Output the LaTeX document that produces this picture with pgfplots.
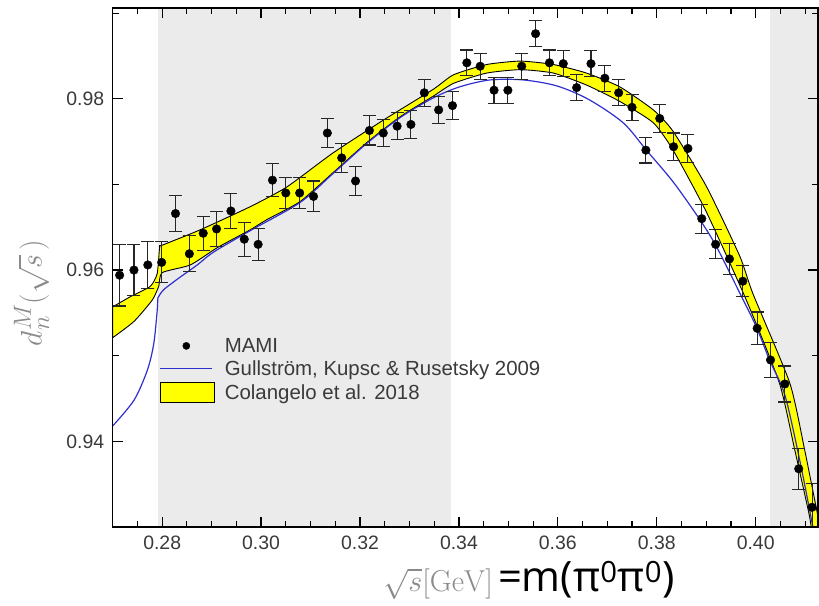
\documentclass[border=0pt]{standalone}
\usepackage{graphicx}
\usepackage{pgfplots}
\pgfplotsset{compat=1.18}
\usepackage{pgfplotstable}
\usepackage[no-math]{fontspec}
\setmainfont{Liberation Sans}
\newfontfamily\bigsans{Open Sans}
\definecolor{bgshade}{HTML}{EBEBEB}
\definecolor{tickgray}{HTML}{3A3A3A}
\definecolor{bandyellow}{HTML}{FFFF00}
\definecolor{gkr}{HTML}{2F2FD0}
\definecolor{labgray}{HTML}{8A8A8A}

\pgfplotstableread{
x y e
0.2714 0.9594 0.0036
0.2743 0.9600 0.0030
0.2771 0.9606 0.0027
0.2799 0.9609 0.0024
0.2827 0.9666 0.0021
0.2855 0.9619 0.0021
0.2883 0.9643 0.0020
0.2910 0.9648 0.0020
0.2939 0.9669 0.0020
0.2966 0.9636 0.0020
0.2994 0.9630 0.0019
0.3023 0.9705 0.0019
0.3050 0.9690 0.0018
0.3078 0.9690 0.0018
0.3106 0.9686 0.0018
0.3134 0.9760 0.0017
0.3163 0.9731 0.0017
0.3191 0.9704 0.0017
0.3219 0.9763 0.0017
0.3247 0.9760 0.0016
0.3275 0.9768 0.0016
0.3303 0.9770 0.0016
0.3330 0.9807 0.0016
0.3359 0.9787 0.0016
0.3387 0.9792 0.0016
0.3416 0.9842 0.0015
0.3443 0.9838 0.0015
0.3471 0.9810 0.0015
0.3499 0.9810 0.0015
0.3527 0.9838 0.0015
0.3555 0.9876 0.0015
0.3583 0.9842 0.0015
0.3611 0.9841 0.0015
0.3638 0.9813 0.0015
0.3667 0.9841 0.0015
0.3695 0.9824 0.0015
0.3723 0.9807 0.0015
0.3750 0.9790 0.0015
0.3778 0.9740 0.0015
0.3806 0.9777 0.0016
0.3834 0.9744 0.0016
0.3863 0.9742 0.0016
0.3891 0.9660 0.0017
0.3919 0.9630 0.0017
0.3947 0.9613 0.0018
0.3974 0.9587 0.0018
0.4003 0.9532 0.0019
0.4030 0.9495 0.0020
0.4059 0.9467 0.0021
0.4087 0.9368 0.0024
0.4114 0.9323 0.0028
}\mami

\pgfplotsset{
  every tick/.style={black, line width=1.2bp},
  tickwidth=10bp, subtickwidth=6bp,
}

\begin{document}
\begin{tikzpicture}
\begin{axis}[
  at={(112.7bp,79bp)}, anchor=south west,
  width=705.3bp, height=519bp, scale only axis,
  xmin=0.27, xmax=0.4126, ymin=0.93, ymax=0.9906,
  xtick={0.28,0.30,0.32,0.34,0.36,0.38,0.40},
  ytick={0.94,0.96,0.98},
  minor x tick num=3, minor y tick num=1,
  xtick pos=both, ytick pos=both,
  tick align=inside,
  axis on top,
  unbounded coords=jump,
  axis line style={line width=1.5bp},
  xticklabel={\pgfmathprintnumber[assume math mode=true,fixed,fixed zerofill,precision=2]{\tick}},
  yticklabel={\pgfmathprintnumber[assume math mode=true,fixed,fixed zerofill,precision=2]{\tick}},
  tick label style={font=\fontsize{19.5}{22}\selectfont, text=tickgray},
  xticklabel style={yshift=-5bp},
  yticklabel style={xshift=-5bp},
  xlabel={\textcolor{labgray}{\scalebox{1.22}{\fontsize{24.88}{28}\selectfont$\sqrt{s}[\mathrm{GeV}]$}}\hspace{5bp}{\bigsans\fontsize{42}{46}\selectfont =m(π\textsuperscript{0}π\textsuperscript{0})}},
  xlabel style={at={(axis description cs:0.590,-0.125)}, anchor=base},
  ylabel={\textcolor{labgray}{\scalebox{1.2}{\fontsize{24.88}{28}\selectfont$d_n^M\bigl(\sqrt{s}\,\bigr)$}}},
  ylabel style={at={(axis description cs:-0.115,0.451)}, anchor=center, inner sep=0pt},
  reverse legend,
  legend cell align=left,
  legend style={at={(axis description cs:0.062,0.372)}, anchor=north west, draw=none, fill=none,
    font=\fontsize{20.5}{23}\selectfont, text=tickgray, row sep=3bp,
    /tikz/every odd column/.append style={column sep=8bp}},
]
% shaded regions
\addplot[fill=bgshade, draw=none, forget plot] coordinates {(0.2791,0.92) (0.3384,0.92) (0.3384,1.0) (0.2791,1.0)} -- cycle;
\addplot[fill=bgshade, draw=none, forget plot] coordinates {(0.4029,0.92) (0.42,0.92) (0.42,1.0) (0.4029,1.0)} -- cycle;
% Colangelo band
\addplot[fill=bandyellow, draw=black, line width=0.9bp, smooth, tension=0.35,
  legend image code/.code={\draw[fill=bandyellow, draw=black, line width=1bp] (0bp,-10bp) rectangle (54bp,10bp);}]
coordinates {
(0.2700,0.9557) (0.2736,0.9569) (0.2776,0.9581) (0.2790,0.9596) (0.2795,0.9627) (0.2800,0.9629)
(0.2877,0.9647) (0.2978,0.9674) (0.3052,0.9697) (0.3146,0.9737) (0.3247,0.9775) (0.3348,0.9811)
(0.3389,0.9828) (0.3456,0.9840) (0.3524,0.9844) (0.3591,0.9840) (0.3658,0.9830) (0.3725,0.9814)
(0.3793,0.9787) (0.3833,0.9762) (0.3901,0.9697) (0.3968,0.9616) (0.3994,0.9573) (0.4069,0.9468)
(0.4099,0.9390) (0.4126,0.9312) (0.4140,0.9270)
(0.4120,0.9270) (0.4109,0.9312) (0.4079,0.9390) (0.4048,0.9468) (0.3981,0.9565) (0.3901,0.9667)
(0.3833,0.9740) (0.3793,0.9772) (0.3725,0.9797) (0.3658,0.9816) (0.3591,0.9830) (0.3524,0.9834)
(0.3456,0.9830) (0.3389,0.9818) (0.3348,0.9803) (0.3281,0.9779) (0.3214,0.9749) (0.3146,0.9714)
(0.3079,0.9680) (0.3012,0.9659) (0.2978,0.9647) (0.2911,0.9626) (0.2857,0.9606) (0.2800,0.9597)
(0.2793,0.9581) (0.2780,0.9565) (0.2743,0.9540) (0.2700,0.9521)
} -- cycle;
\addlegendentry{Colangelo et al. 2018}
% Gullstrom, Kupsc & Rusetsky (below threshold)
\addplot[gkr, line width=1.2bp, no marks, smooth, tension=0.5, forget plot]
coordinates {
(0.2700,0.9418) (0.2743,0.9448) (0.2770,0.9483) (0.2783,0.9514) (0.2790,0.9553) (0.2791,0.9567)
};
% above threshold
\addplot[gkr, line width=1.2bp, no marks, smooth, tension=0.5,
  legend image code/.code={\draw[gkr, line width=1.4bp] (0bp,0bp) -- (52bp,0bp);}]
coordinates {
(0.2791,0.9567)
(0.2803,0.9577) (0.2837,0.9592) (0.2871,0.9606) (0.2904,0.9621) (0.2978,0.9646) (0.3079,0.9679)
(0.3146,0.9713) (0.3214,0.9748) (0.3281,0.9778) (0.3348,0.9801) (0.3402,0.9814) (0.3463,0.9822)
(0.3530,0.9822) (0.3598,0.9815) (0.3663,0.9799) (0.3732,0.9772) (0.3779,0.9740) (0.3833,0.9703)
(0.3887,0.9659) (0.3921,0.9627) (0.3968,0.9573) (0.4001,0.9534) (0.4028,0.9495) (0.4059,0.9454)
(0.4089,0.9378) (0.4113,0.9308) (0.4125,0.9270)
};
\addlegendentry{Gullström, Kupsc \& Rusetsky 2009}
% MAMI data
\addplot[only marks, mark=*, mark size=4.3bp, black,
  error bars/.cd, y dir=both, y explicit,
  error bar style={line width=1.1bp, black!85},
  error mark options={rotate=90, mark size=6.5bp, line width=1.1bp, black!85},
  /pgfplots/legend image code/.code={\fill[black] (26bp,0bp) circle (3.6bp);}]
table[x=x, y=y, y error=e] {\mami};
\addlegendentry{MAMI}
% tick marks drawn through the axis (inside, all four sides)
\addplot[black, line width=1.2bp, no marks, forget plot] coordinates {
(0.28,0.93) (0.28,0.93117) (nan,nan) (0.30,0.93) (0.30,0.93117) (nan,nan)
(0.32,0.93) (0.32,0.93117) (nan,nan) (0.34,0.93) (0.34,0.93117) (nan,nan)
(0.36,0.93) (0.36,0.93117) (nan,nan) (0.38,0.93) (0.38,0.93117) (nan,nan)
(0.40,0.93) (0.40,0.93117) (nan,nan)
(0.28,0.9906) (0.28,0.98943) (nan,nan) (0.30,0.9906) (0.30,0.98943) (nan,nan)
(0.32,0.9906) (0.32,0.98943) (nan,nan) (0.34,0.9906) (0.34,0.98943) (nan,nan)
(0.36,0.9906) (0.36,0.98943) (nan,nan) (0.38,0.9906) (0.38,0.98943) (nan,nan)
(0.40,0.9906) (0.40,0.98943) (nan,nan)
(0.27,0.94) (0.27202,0.94) (nan,nan) (0.27,0.96) (0.27202,0.96) (nan,nan)
(0.27,0.98) (0.27202,0.98) (nan,nan)
(0.4126,0.94) (0.41058,0.94) (nan,nan) (0.4126,0.96) (0.41058,0.96) (nan,nan)
(0.4126,0.98) (0.41058,0.98)
};
\addplot[black, line width=1.1bp, no marks, forget plot] coordinates {
(0.275,0.93) (0.275,0.9307) (nan,nan) (0.285,0.93) (0.285,0.9307) (nan,nan)
(0.290,0.93) (0.290,0.9307) (nan,nan) (0.295,0.93) (0.295,0.9307) (nan,nan)
(0.305,0.93) (0.305,0.9307) (nan,nan) (0.310,0.93) (0.310,0.9307) (nan,nan)
(0.315,0.93) (0.315,0.9307) (nan,nan) (0.325,0.93) (0.325,0.9307) (nan,nan)
(0.330,0.93) (0.330,0.9307) (nan,nan) (0.335,0.93) (0.335,0.9307) (nan,nan)
(0.345,0.93) (0.345,0.9307) (nan,nan) (0.350,0.93) (0.350,0.9307) (nan,nan)
(0.355,0.93) (0.355,0.9307) (nan,nan) (0.365,0.93) (0.365,0.9307) (nan,nan)
(0.370,0.93) (0.370,0.9307) (nan,nan) (0.375,0.93) (0.375,0.9307) (nan,nan)
(0.385,0.93) (0.385,0.9307) (nan,nan) (0.390,0.93) (0.390,0.9307) (nan,nan)
(0.395,0.93) (0.395,0.9307) (nan,nan) (0.405,0.93) (0.405,0.9307) (nan,nan)
(0.410,0.93) (0.410,0.9307) (nan,nan)
(0.275,0.9906) (0.275,0.9899) (nan,nan) (0.285,0.9906) (0.285,0.9899) (nan,nan)
(0.290,0.9906) (0.290,0.9899) (nan,nan) (0.295,0.9906) (0.295,0.9899) (nan,nan)
(0.305,0.9906) (0.305,0.9899) (nan,nan) (0.310,0.9906) (0.310,0.9899) (nan,nan)
(0.315,0.9906) (0.315,0.9899) (nan,nan) (0.325,0.9906) (0.325,0.9899) (nan,nan)
(0.330,0.9906) (0.330,0.9899) (nan,nan) (0.335,0.9906) (0.335,0.9899) (nan,nan)
(0.345,0.9906) (0.345,0.9899) (nan,nan) (0.350,0.9906) (0.350,0.9899) (nan,nan)
(0.355,0.9906) (0.355,0.9899) (nan,nan) (0.365,0.9906) (0.365,0.9899) (nan,nan)
(0.370,0.9906) (0.370,0.9899) (nan,nan) (0.375,0.9906) (0.375,0.9899) (nan,nan)
(0.385,0.9906) (0.385,0.9899) (nan,nan) (0.390,0.9906) (0.390,0.9899) (nan,nan)
(0.395,0.9906) (0.395,0.9899) (nan,nan) (0.405,0.9906) (0.405,0.9899) (nan,nan)
(0.410,0.9906) (0.410,0.9899) (nan,nan)
(0.27,0.95) (0.27121,0.95) (nan,nan) (0.27,0.97) (0.27121,0.97) (nan,nan)
(0.27,0.99) (0.27121,0.99) (nan,nan)
(0.4126,0.95) (0.41139,0.95) (nan,nan) (0.4126,0.97) (0.41139,0.97) (nan,nan)
(0.4126,0.99) (0.41139,0.99)
};
\end{axis}
\pgfresetboundingbox
\path (0,0) rectangle (819bp,606bp);
\end{tikzpicture}
\end{document}
